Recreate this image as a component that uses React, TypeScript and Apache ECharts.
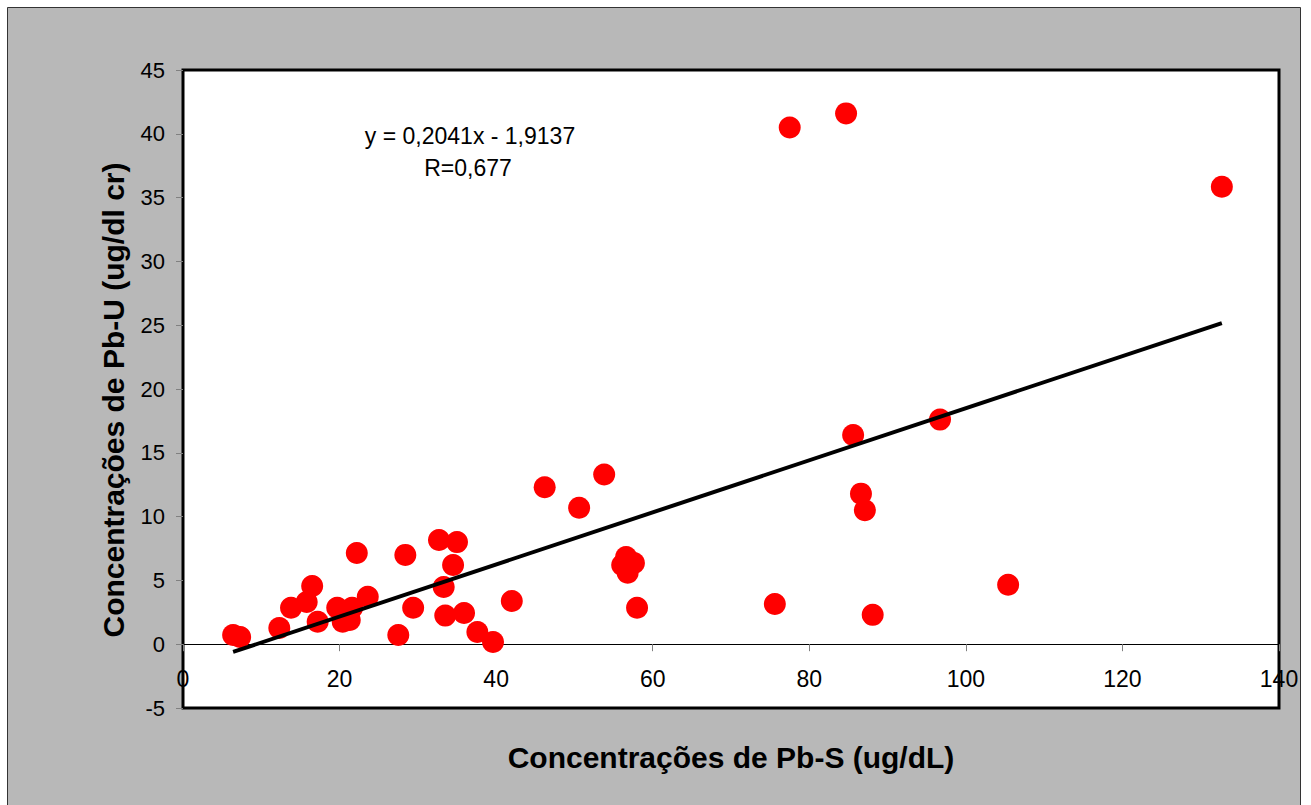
import React, { useEffect, useRef } from "react";
import * as echarts from "echarts";

const pbS: number[] = [
  6.4, 7.3, 12.3, 13.8, 15.8, 16.5, 17.2, 19.7, 20.4, 21.6, 21.3, 23.6, 22.2, 27.5,
  28.4, 29.4, 32.7, 35.0, 34.5, 33.3, 33.5, 35.9, 37.6, 39.6, 42.0, 46.2, 53.8, 50.6,
  56.6, 57.6, 56.8, 56.1, 58.0, 75.6, 77.5, 84.7, 85.6, 86.6, 87.1, 88.1, 96.7, 105.4,
  132.7,
];
const pbU: number[] = [
  0.72, 0.56, 1.27, 2.85, 3.3, 4.56, 1.76, 2.85, 1.76, 2.85, 1.9, 3.72, 7.15, 0.72,
  7.0, 2.85, 8.17, 8.0, 6.2, 4.48, 2.24, 2.45, 0.96, 0.17, 3.39, 12.3, 13.3, 10.7,
  6.83, 6.36, 5.6, 6.2, 2.85, 3.15, 40.5, 41.6, 16.4, 11.8, 10.5, 2.3, 17.6, 4.66,
  35.85,
];
const slope = 0.2041;
const intercept = -1.9137;
const equationLines: string[] = ["y = 0,2041x - 1,9137", "R=0,677"];
const xTitle = "Concentrações de Pb-S (ug/dL)";
const yTitle = "Concentrações de Pb-U (ug/dl cr)";

export default function App() {
  const ref = useRef<HTMLDivElement>(null);
  useEffect(() => {
    if (!ref.current) return;
    const chart = echarts.init(ref.current, null, { renderer: "svg" });
    const xmin = Math.min(...pbS);
    const xmax = Math.max(...pbS);
    const font = "'Liberation Sans', Arial, sans-serif";
    chart.setOption({
      animation: false,
      backgroundColor: "#ffffff",
      graphic: [
        {
          type: "rect",
          z: -10,
          silent: true,
          shape: { x: 7.5, y: 7.5, width: 1293, height: 800 },
          style: { fill: "#b8b8b8", stroke: "#333333", lineWidth: 1 },
        },
        {
          type: "text",
          x: 731,
          y: 757,
          style: {
            text: xTitle,
            fill: "#000",
            font: `bold 30px ${font}`,
            align: "center",
            verticalAlign: "middle",
          },
          z: 10,
        },
        {
          type: "text",
          x: 113,
          y: 400,
          rotation: Math.PI / 2,
          style: {
            text: yTitle,
            fill: "#000",
            font: `bold 30px ${font}`,
            align: "center",
            verticalAlign: "middle",
          },
          z: 10,
        },
        {
          type: "text",
          x: 470,
          y: 136,
          style: {
            text: equationLines[0],
            fill: "#000",
            font: `23px ${font}`,
            align: "center",
            verticalAlign: "middle",
          },
          z: 10,
        },
        {
          type: "text",
          x: 468,
          y: 168,
          style: {
            text: equationLines[1],
            fill: "#000",
            font: `23px ${font}`,
            align: "center",
            verticalAlign: "middle",
          },
          z: 10,
        },
      ],
      grid: {
        left: 183,
        top: 70,
        right: 32,
        bottom: 97,
        show: true,
        backgroundColor: "#ffffff",
        borderColor: "#000000",
        borderWidth: 3,
      },
      xAxis: {
        type: "value",
        min: 0,
        max: 140,
        interval: 20,
        axisLine: { show: true, onZero: true, lineStyle: { color: "#000", width: 1 } },
        axisTick: { show: true, length: 7, inside: false, lineStyle: { color: "#808080", width: 1 } },
        axisLabel: { color: "#000", fontSize: 23, fontFamily: font, margin: -41 },
        splitLine: { show: false },
      },
      yAxis: {
        type: "value",
        min: -5,
        max: 45,
        interval: 5,
        axisLine: { show: false },
        axisTick: { show: true, length: 7, lineStyle: { color: "#808080", width: 1 } },
        axisLabel: { color: "#000", fontSize: 22, fontFamily: font, margin: 18 },
        splitLine: { show: false },
      },
      series: [
        {
          type: "scatter",
          data: pbS.map((x, i) => [x, pbU[i]]),
          symbol: "circle",
          symbolSize: 22,
          itemStyle: { color: "#ff0000", opacity: 1 },
          z: 3,
        },
        {
          type: "line",
          data: [
            [xmin, slope * xmin + intercept],
            [xmax, slope * xmax + intercept],
          ],
          symbol: "none",
          lineStyle: { color: "#000", width: 4 },
          z: 4,
        },
      ],
    });
    return () => chart.dispose();
  }, []);
  return (
    <div
      ref={ref}
      style={{ position: "absolute", left: 0, top: 0, width: 1311, height: 805 }}
    />
  );
}
